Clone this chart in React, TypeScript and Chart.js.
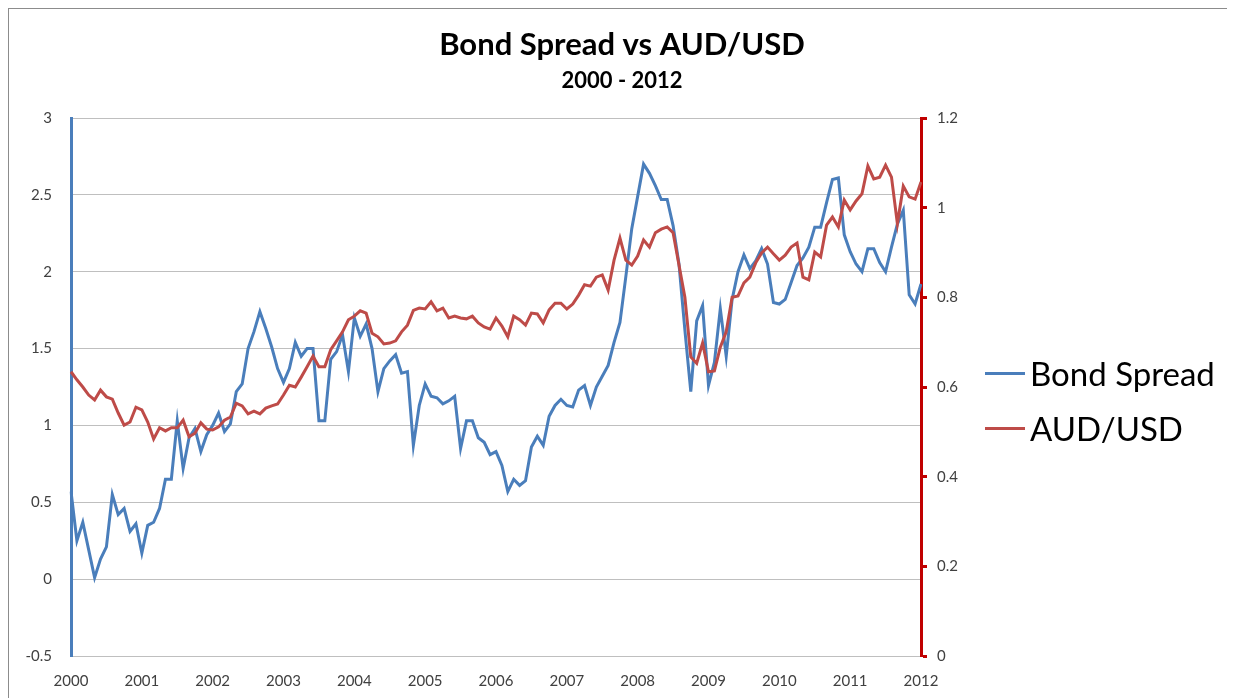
import React, { useEffect, useRef } from "react";
import { Chart, registerables } from "chart.js";

Chart.register(...registerables);

const yearLabels = ["2000", "2001", "2002", "2003", "2004", "2005", "2006", "2007", "2008", "2009", "2010", "2011", "2012"];

// monthly categories Jan 2000 .. Jan 2012
const categories: string[] = [];
yearLabels.forEach((y, yi) => {
  const months = yi === yearLabels.length - 1 ? 1 : 12;
  for (let m = 1; m <= months; m++) categories.push(`${y}-${String(m).padStart(2, "0")}`);
});

const bondSpread = [
  0.57, 0.25, 0.37, 0.19, 0.01, 0.13, 0.21, 0.55, 0.42, 0.46, 0.31, 0.36,
  0.17, 0.35, 0.37, 0.46, 0.65, 0.65, 1.03, 0.72, 0.92, 0.98, 0.83, 0.94,
  1.0, 1.08, 0.96, 1.01, 1.22, 1.27, 1.5, 1.61, 1.74, 1.63, 1.51, 1.37,
  1.28, 1.37, 1.54, 1.45, 1.5, 1.5, 1.03, 1.03, 1.43, 1.48, 1.59, 1.35,
  1.7, 1.58, 1.66, 1.5, 1.22, 1.37, 1.42, 1.46, 1.34, 1.35, 0.87, 1.13,
  1.27, 1.19, 1.18, 1.14, 1.16, 1.19, 0.85, 1.03, 1.03, 0.92, 0.89, 0.81,
  0.83, 0.74, 0.57, 0.65, 0.61, 0.64, 0.86, 0.93, 0.87, 1.06, 1.13, 1.17,
  1.13, 1.12, 1.23, 1.26, 1.13, 1.25, 1.32, 1.39, 1.54, 1.67, 1.97, 2.28,
  2.49, 2.7, 2.64, 2.56, 2.47, 2.47, 2.3, 2.05, 1.62, 1.22, 1.68, 1.78,
  1.26, 1.41, 1.76, 1.45, 1.82, 2.0, 2.11, 2.02, 2.07, 2.15, 2.05, 1.8,
  1.79, 1.82, 1.93, 2.04, 2.09, 2.16, 2.29, 2.29, 2.45, 2.6, 2.61, 2.24,
  2.13, 2.05, 2.0, 2.15, 2.15, 2.06, 2.0, 2.16, 2.31, 2.4, 1.85, 1.79,
  1.92,
];

const audUsd = [
  0.634, 0.616, 0.6, 0.582, 0.571, 0.593, 0.578, 0.573, 0.542, 0.515, 0.522, 0.555,
  0.549, 0.522, 0.484, 0.509, 0.502, 0.509, 0.509, 0.526, 0.489, 0.497, 0.52, 0.506,
  0.504, 0.511, 0.526, 0.533, 0.564, 0.558, 0.54, 0.546, 0.54, 0.553, 0.558, 0.562,
  0.582, 0.604, 0.6, 0.622, 0.645, 0.669, 0.645, 0.645, 0.683, 0.703, 0.723, 0.75,
  0.758, 0.77, 0.765, 0.72, 0.712, 0.696, 0.698, 0.703, 0.723, 0.738, 0.771, 0.776,
  0.774, 0.79, 0.77, 0.776, 0.754, 0.758, 0.754, 0.752, 0.758, 0.743, 0.734, 0.729,
  0.754, 0.736, 0.712, 0.758, 0.75, 0.738, 0.765, 0.763, 0.743, 0.772, 0.787, 0.787,
  0.774, 0.785, 0.805, 0.828, 0.825, 0.845, 0.85, 0.816, 0.883, 0.932, 0.883, 0.872,
  0.892, 0.928, 0.912, 0.944, 0.952, 0.957, 0.944, 0.872, 0.8, 0.667, 0.653, 0.698,
  0.634, 0.636, 0.689, 0.723, 0.8, 0.803, 0.832, 0.845, 0.877, 0.899, 0.912, 0.897,
  0.883, 0.894, 0.912, 0.921, 0.845, 0.839, 0.901, 0.89, 0.961, 0.979, 0.957, 1.017,
  0.995, 1.015, 1.031, 1.093, 1.064, 1.068, 1.095, 1.068, 0.964, 1.048, 1.024, 1.019,
  1.057,
];

const BLUE = "#4a7ebb";
const RED = "#be4b48";
const AXIS_RED = "#c00000";
const FONT = "Lato, 'DejaVu Sans', sans-serif";

// canvas-local plot box (canvas placed at page 9,9)
const CANVAS_W = 1226;
const CANVAS_H = 689;
const PLOT_LEFT = 62;
const PLOT_RIGHT = 912;
const PLOT_BOTTOM = 647;

const fmt = (v: any) => String(Math.round(Number(v) * 10) / 10);

export default function App() {
  const ref = useRef<HTMLCanvasElement | null>(null);

  useEffect(() => {
    if (!ref.current) return;
    const chart = new Chart(ref.current, {
      type: "line",
      data: {
        labels: categories,
        datasets: [
          {
            label: "AUD/USD",
            data: audUsd,
            borderColor: RED,
            backgroundColor: RED,
            borderWidth: 3,
            pointRadius: 0,
            tension: 0,
            yAxisID: "y1",
            order: 0,
          },
          {
            label: "Bond Spread",
            data: bondSpread,
            borderColor: BLUE,
            backgroundColor: BLUE,
            borderWidth: 3,
            pointRadius: 0,
            tension: 0,
            yAxisID: "y",
            order: 1,
          },
        ],
      },
      options: {
        animation: false,
        responsive: false,
        devicePixelRatio: 1,
        layout: { padding: 0 },
        plugins: {
          legend: { display: false },
          tooltip: { enabled: false },
          title: {
            display: true,
            text: "Bond Spread vs AUD/USD",
            color: "#000",
            font: { family: FONT, size: 31, weight: "bold", lineHeight: 1.2 },
            padding: { top: 17.4, bottom: 4 },
          },
          subtitle: {
            display: true,
            text: "2000 - 2012",
            color: "#000",
            font: { family: FONT, size: 22, weight: "bold", lineHeight: 1.2 },
            padding: { top: 0, bottom: 24 },
          },
        },
        scales: {
          x: {
            type: "category",
            offset: false,
            grid: { display: false },
            border: { display: false },
            ticks: {
              autoSkip: false,
              maxRotation: 0,
              minRotation: 0,
              padding: 8,
              color: "#404040",
              font: { family: FONT, size: 15 },
              callback: (_v: any, i: number) => (i % 12 === 0 ? categories[i].slice(0, 4) : null),
            },
            afterFit: (s: any) => {
              s.height = CANVAS_H - PLOT_BOTTOM;
            },
          },
          y: {
            type: "linear",
            position: "left",
            min: -0.5,
            max: 3,
            ticks: {
              stepSize: 0.5,
              padding: 19,
              color: "#404040",
              font: { family: FONT, size: 15 },
              callback: fmt,
            },
            grid: { color: "#bfbfbf", lineWidth: 1, drawTicks: false },
            border: { display: true, color: BLUE, width: 3 },
            afterFit: (s: any) => {
              s.width = PLOT_LEFT;
            },
          },
          y1: {
            type: "linear",
            position: "right",
            min: 0,
            max: 1.2,
            ticks: {
              stepSize: 0.2,
              padding: 10,
              color: "#404040",
              font: { family: FONT, size: 15 },
              callback: fmt,
            },
            grid: {
              drawOnChartArea: false,
              drawTicks: true,
              tickLength: 6,
              color: AXIS_RED,
              tickColor: AXIS_RED,
              tickWidth: 3,
            } as any,
            border: { display: true, color: AXIS_RED, width: 3 },
            afterFit: (s: any) => {
              s.width = CANVAS_W - PLOT_RIGHT;
            },
          },
        },
      } as any,
    });
    return () => chart.destroy();
  }, []);

  const legendItem = (label: string, color: string, top: number) => (
    <div
      style={{
        position: "absolute",
        left: 976,
        top,
        display: "flex",
        alignItems: "center",
        fontFamily: FONT,
        fontSize: 33,
        color: "#000",
        lineHeight: "38px",
        whiteSpace: "nowrap",
      }}
    >
      <span style={{ display: "inline-block", width: 40, height: 3, background: color, marginRight: 5 }} />
      <span>{label}</span>
    </div>
  );

  return (
    <div
      style={{
        position: "relative",
        width: 1227,
        height: 690,
        boxSizing: "border-box",
        borderTop: "1px solid #8c8c8c",
        borderLeft: "1px solid #8c8c8c",
        overflow: "hidden",
        background: "#fff",
      }}
    >
      <canvas ref={ref} width={CANVAS_W} height={CANVAS_H} style={{ position: "absolute", left: 0, top: 0, width: CANVAS_W, height: CANVAS_H }} />
      {legendItem("Bond Spread", BLUE, 345)}
      {legendItem("AUD/USD", RED, 400)}
    </div>
  );
}
